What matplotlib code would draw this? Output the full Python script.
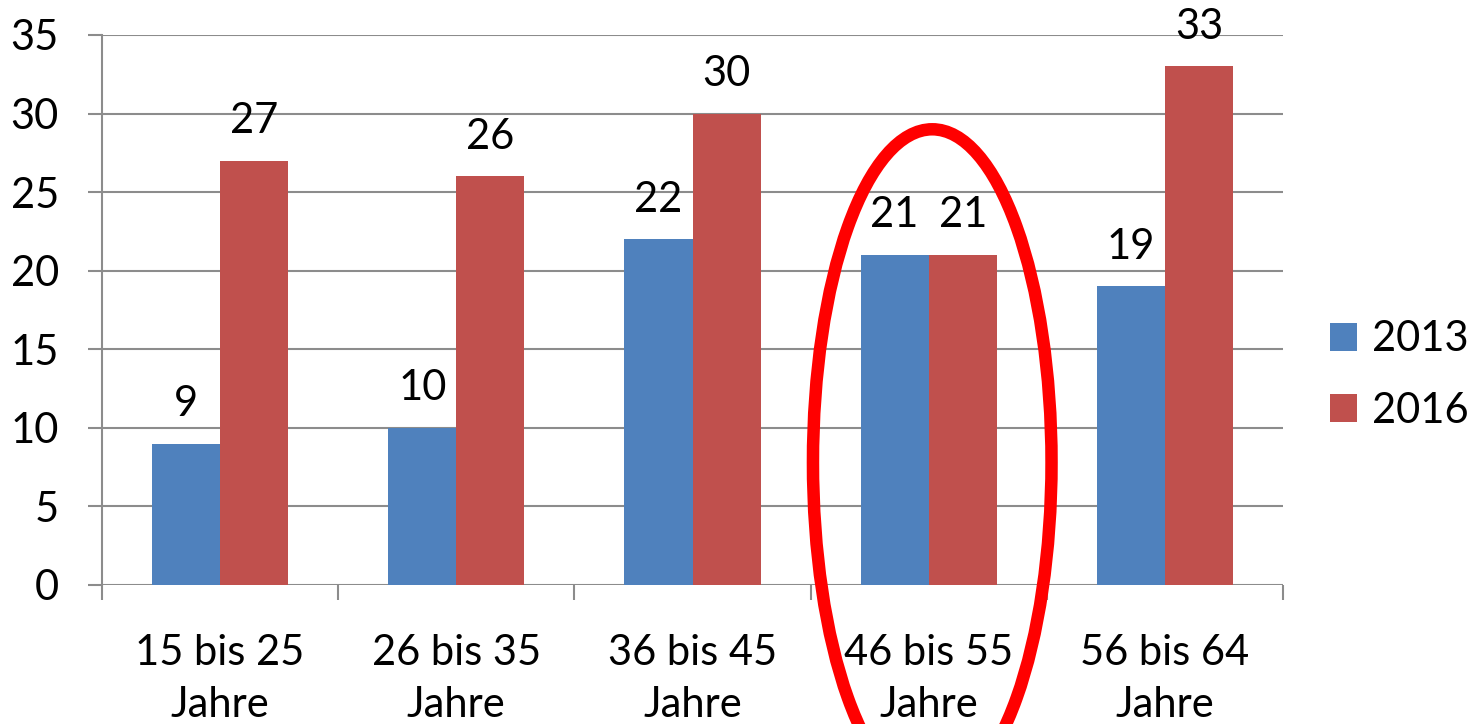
import matplotlib
matplotlib.use("Agg")
import matplotlib.pyplot as plt
from matplotlib.patches import Ellipse, Patch
import numpy as np

plt.rcParams['font.family'] = ['Lato', 'DejaVu Sans']

categories = ["15 bis 25\nJahre", "26 bis 35\nJahre", "36 bis 45\nJahre",
              "46 bis 55\nJahre", "56 bis 64\nJahre"]
series_names = ["2013", "2016"]
values_2013 = [9, 10, 22, 21, 19]
values_2016 = [27, 26, 30, 21, 33]
y_ticks = [0, 5, 10, 15, 20, 25, 30, 35]

blue = "#4f81bd"
red = "#c0504d"
grid = "#8c8c8c"
fs = 30

fig = plt.figure(figsize=(14.78, 7.24), dpi=100)
ax = fig.add_axes([102 / 1478, 139 / 724, 1181 / 1478, 550 / 724])

x = np.arange(len(categories))
w = 0.288
ax.bar(x - w / 2, values_2013, w, color=blue, zorder=2)
ax.bar(x + w / 2, values_2016, w, color=red, zorder=2)

for xs, vals in ((x - w / 2, values_2013), (x + w / 2, values_2016)):
    for xi, v in zip(xs, vals):
        ax.annotate(str(v), (xi, v), xytext=(0, 20), textcoords="offset points",
                    ha="center", va="baseline", fontsize=fs, color="black")

ax.set_xlim(-0.5, len(categories) - 0.5)
ax.set_ylim(0, 35)
ax.set_yticks(y_ticks)
ax.set_yticklabels([str(t) for t in y_ticks], fontsize=fs)
ax.yaxis.grid(True, color=grid, linewidth=1.5, zorder=0)
ax.set_axisbelow(True)

# category labels centred between separator ticks
ax.set_xticks(x)
ax.set_xticklabels(categories, fontsize=fs, linespacing=1.47)
ax.tick_params(axis="x", length=0, pad=35)
ax.set_xticks(np.arange(len(categories) + 1) - 0.5, minor=True)
ax.tick_params(axis="x", which="minor", length=11, width=1.5, color=grid, direction="out")
ax.tick_params(axis="y", length=10, width=1.5, color=grid, pad=21)

for s in ("top", "right", "bottom"):
    ax.spines[s].set_visible(False)
ax.spines["left"].set_color(grid)
ax.spines["left"].set_linewidth(1.5)

handles = [Patch(facecolor=blue), Patch(facecolor=red)]
fig.legend(handles, series_names, loc="center left", bbox_to_anchor=(1330 / 1478, 1 - 375 / 724),
           frameon=False, fontsize=fs, handlelength=0.65, handleheight=0.65,
           handletextpad=0.35, labelspacing=0.8, borderaxespad=0, borderpad=0)

# red ring around the 46-55 group
ring = Ellipse((3.015, 7.8), width=1.01, height=42.4, fill=False, edgecolor="#ff0000",
               linewidth=9, clip_on=False, zorder=5)
ax.add_patch(ring)

fig.savefig("out.png", dpi=100)
